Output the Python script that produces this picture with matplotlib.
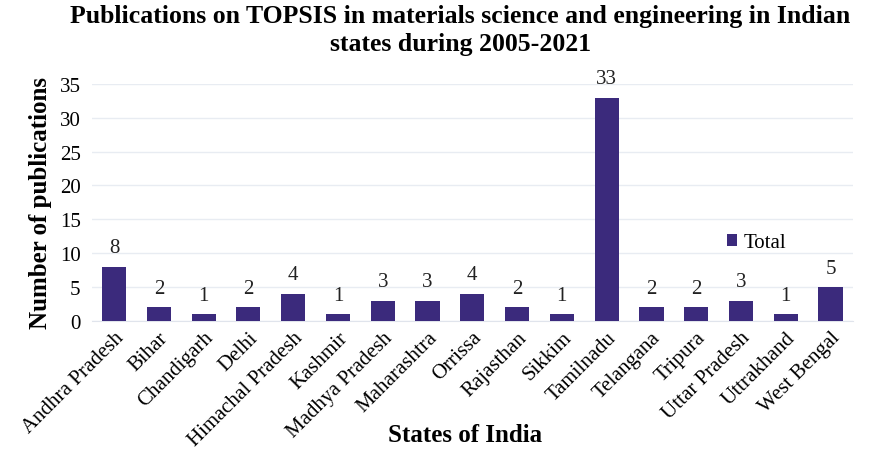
import matplotlib
matplotlib.use("Agg")
import matplotlib.pyplot as plt

states = ["Andhra Pradesh", "Bihar", "Chandigarh", "Delhi", "Himachal Pradesh",
          "Kashmir", "Madhya Pradesh", "Maharashtra", "Orrissa", "Rajasthan",
          "Sikkim", "Tamilnadu", "Telangana", "Tripura", "Uttar Pradesh",
          "Uttrakhand", "West Bengal"]
totals = [8, 2, 1, 2, 4, 1, 3, 3, 4, 2, 1, 33, 2, 2, 3, 1, 5]
yticks = [0, 5, 10, 15, 20, 25, 30, 35]

plt.rcParams['font.family'] = ['Liberation Serif', 'DejaVu Serif']
color = "#3b2a7c"

fig = plt.figure(figsize=(8.73, 4.52), dpi=100)
ax = fig.add_axes([0.105, 0.288, 0.872, 0.524])
x = list(range(len(states)))
ax.bar(x, totals, width=0.54, color=color, label="Total", zorder=3)
for xi, v in zip(x, totals):
    ax.text(xi, v + 1.4, str(v), ha="center", va="bottom", fontsize=15, color="#222222")

ax.set_xlim(-0.5, len(states) - 0.5)
ax.set_ylim(0, 35)
ax.set_yticks(yticks)
ax.set_yticklabels([str(t) for t in yticks], fontsize=15)
ax.set_xticks(x)
ax.set_xticklabels(states, rotation=45, ha="right", rotation_mode="anchor", fontsize=15)
ax.tick_params(axis="y", length=0, pad=8)
ax.tick_params(axis="x", length=0, pad=5)
ax.grid(axis="y", color="#e8ecf2", linewidth=1, zorder=0)
for s in ["top", "right", "left"]:
    ax.spines[s].set_visible(False)
ax.spines["bottom"].set_color("#e0e4ec")

ax.set_ylabel("Number of publications", fontsize=18, fontweight="bold")
ax.yaxis.set_label_coords(-0.052, 0.5)
ax.set_xlabel("States of India", fontsize=18, fontweight="bold")
ax.xaxis.set_label_coords(0.49, -0.43)
fig.suptitle("Publications on TOPSIS in materials science and engineering in Indian\nstates during 2005-2021",
             fontsize=18.5, fontweight="bold", x=0.527, y=0.99, linespacing=1.3)

ax.legend(loc="upper left", bbox_to_anchor=(0.81, 0.45), frameon=False, fontsize=15,
          handlelength=0.5, handleheight=0.5, handletextpad=0.3)

fig.savefig("out.png", dpi=100)
